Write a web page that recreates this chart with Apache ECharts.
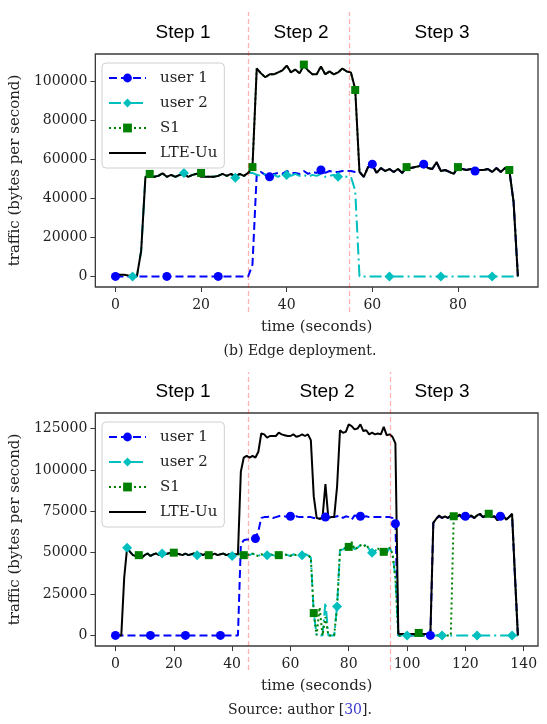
<!DOCTYPE html>
<html>
<head>
<meta charset="utf-8">
<script src="https://cdn.jsdelivr.net/npm/echarts@6/dist/echarts.min.js"></script>
<style>
html, body { margin: 0; padding: 0; background: #fff; }
#chart { width: 547px; height: 724px; }
</style>
</head>
<body>
<div id="chart"></div>
<script>
// (b) Edge deployment -- one sample per second, each series starts at its own second
const edgeUser1Start = 0;
const edgeUser1 = [
  0, 0, 0, 0, 0, 0, 0, 0, 0, 0, 0, 0, 0, 0, 0, 0, 0, 0, 0, 0, 0, 0, 0, 0, 0, 0, 0, 0, 0, 0, 0, 0,
  6000, 52500, 53500, 52000, 51000, 52500, 53000, 52500, 54000, 53000, 53000, 52500, 54000, 52500,
  53500, 53000, 54500, 53000, 54000, 53500, 53500, 54000, 54000, 54000, 53500,
  53500, 51000, 56000, 57500, 53000, 55500, 54000, 55000, 53500, 55000, 53000, 56000, 55500, 56000,
  56500, 57500, 55500, 55000, 58500, 54000, 54500, 53500, 52500, 56000, 55000, 54500, 55000, 54000,
  54500, 54500, 55000, 53500, 55500, 53500, 55500, 54500, 38000, 0
];
const edgeUser2Start = 4;
const edgeUser2 = [
  0, 0, 13000, 51000,
  51000, 51000, 51500, 52800, 51000, 52000, 51000, 52000, 53000, 51000, 52000, 52600, 51000, 51000,
  51000, 51000, 51500, 52500, 51500, 52500, 50500, 52500, 51500, 53000,
  53000, 52000, 51500, 52500, 51500, 52000, 51000, 52500, 52000, 51500, 52500, 51500, 52000, 51000,
  52000, 51500, 52500, 51000, 51500, 52000, 51000, 51500, 51000, 51000, 44000,
  0, 0, 0, 0, 0, 0, 0, 0, 0, 0, 0, 0, 0, 0, 0, 0, 0, 0, 0, 0, 0, 0, 0, 0, 0, 0, 0, 0, 0, 0, 0, 0,
  0, 0, 0, 0, 0, 0
];
const edgeS1Start = 8;
const edgeS1 = [
  52500, 51000, 51500, 52800, 51000, 52000, 51000, 52000, 52500, 51000, 52000, 52600, 53000, 51000,
  51000, 51000, 51500, 52500, 51500, 52500, 51000, 52500, 51500, 53000,
  56000, 106500, 104000, 102000, 103500, 103500, 104500, 105500, 108000, 104500, 106000, 104000,
  108500, 105500, 103500, 103500, 107500, 103500, 105000, 103500, 104500, 106500, 105000, 104500, 95500,
  53500, 51000, 56000, 57000, 53000, 55500, 54000, 55000, 53500, 55000, 53000, 56000, 55500, 56000,
  56500, 57500, 55500, 55000, 58500, 54000, 54500, 53500, 52500, 56000, 55000, 54500, 55000, 54000,
  54500, 54500, 55000, 53500, 55500, 53500, 55500, 54500, 38000, 0
];
const edgeLteStart = 0;
const edgeLte = [
  1000, 900, 800, 500, 300, 0, 13000,
  51000, 51000, 51000, 51500, 52800, 51000, 52000, 51000, 52000, 52500, 51000, 52000, 52600, 51000,
  51000, 51000, 51000, 51500, 52500, 51500, 52500, 51000, 52500, 51500, 53000,
  56000, 106500, 104000, 102000, 103500, 103500, 104500, 105500, 108000, 104500, 106000, 104000,
  108000, 105500, 103500, 103500, 107500, 103500, 105000, 103500, 104500, 106500, 105000, 104500, 96000,
  53500, 51000, 56000, 57000, 53000, 55500, 54000, 55000, 53500, 55000, 53000, 56000, 55500, 56000,
  56500, 57500, 55500, 55000, 58500, 54000, 54500, 53500, 52500, 56000, 55000, 54500, 55000, 54000,
  54500, 54500, 55000, 53500, 55500, 53500, 55500, 54500, 38000, 0
];
const edgeSteps = [31.3, 54.8];
const edgeXTicks = [0, 20, 40, 60, 80];
const edgeYTicks = [0, 20000, 40000, 60000, 80000, 100000];

// second experiment (source: author [30])
const cloudUser1Start = 0;
const cloudUser1 = [
  0, 0, 0, 0, 0, 0, 0, 0, 0, 0, 0, 0, 0, 0, 0, 0, 0, 0, 0, 0, 0, 0, 0, 0, 0, 0, 0, 0, 0, 0,
  0, 0, 0, 0, 0, 0, 0, 0, 0, 0, 0, 0, 0,
  55000, 57500, 58000, 58000, 58500, 58500, 63000, 71000, 71500, 71500, 72000, 71000, 71500, 72000,
  72500, 72000, 71500, 72000, 71500, 72000, 71500, 71500, 72000, 71500, 71500, 71000, 71000, 70500,
  71000, 71500, 71000, 71500, 71500, 72000, 72500, 71000, 72000, 71500, 70000, 72500, 72000, 72000,
  71500, 72000, 71500, 71500, 71500, 71500, 71500, 71500, 71500, 71500, 71000, 67500,
  0, 0, 0, 0, 0, 0, 0, 0, 0, 0, 0, 0,
  68000, 70500, 72000, 71000, 72000, 71000, 72000, 72000, 71500, 72500, 71000, 72000, 71500, 72000,
  71000, 72000, 73000, 71500, 72000, 73000, 71500, 72000, 69500, 72000, 72000, 70000, 71500, 73000,
  36000, 0
];
const cloudUser2Start = 4;
const cloudUser2 = [
  53000, 50500, 48500, 48000, 48000, 47000, 48500, 49500, 48000, 49000, 49500, 48500, 49500, 49000,
  49500, 50000, 48500, 49500, 49000, 48500, 49500, 48500, 49000, 49500, 48500, 49500, 48500, 49500,
  49000, 48500, 49500, 48500, 49000, 49500, 48500, 49000, 48000, 49000, 49000,
  49000, 48500, 49000, 48500, 49500, 48500, 48000, 49000, 48500, 48500, 49000, 48500, 48000, 49000,
  48500, 49000, 48500, 48000, 49000, 48500, 49000, 48500, 49000, 48500,
  47000, 13500, 0, 0, 0, 20000, 0, 0, 0, 17500,
  51500, 52000, 53000, 53500, 55500, 52000, 53000, 54500, 53500, 55000, 52000, 50000, 51000, 52500,
  51000, 50500, 50000, 53000, 49500, 35000,
  0, 0, 0, 0, 0, 0, 0, 0, 0, 0, 0, 0, 0, 0, 0, 0, 0, 0, 0, 0, 0, 0, 0, 0, 0, 0, 0, 0, 0, 0,
  0, 0, 0, 0, 0, 0, 0, 0, 0, 0, 0, 0
];
const cloudS1Start = 8;
const cloudS1 = [
  48500, 47000, 48500, 49500, 48000, 49000, 49500, 48500, 49500, 49000, 49500, 50000, 50000, 49500,
  49000, 48500, 49500, 48500, 49000, 49500, 48500, 49500, 48500, 49500, 48500, 48500, 49500, 48500,
  49000, 49500, 48500, 49000, 48000, 49000, 49000,
  49000, 48500, 49000, 48500, 49500, 48500, 48000, 49000, 48500, 48500, 49000, 48500, 48000, 48500,
  48500, 49000, 48500, 48000, 49000, 48500, 49000, 48500, 49000, 48500,
  47000, 13500, 0, 17000, 0, 11000, 0, 0, 0, 17500,
  51500, 52000, 53000, 53500, 56500, 52000, 53000, 54500, 53500, 55000, 52000, 50000, 51000, 52500,
  51000, 50500, 50000, 53000, 49500, 35000,
  0, 0, 0, 0, 0, 0, 0, 1500, 0, 0, 0, 0, 0, 0, 0, 0, 0, 0, 0,
  72000, 71500, 73000, 71000, 72000, 71500, 72500, 71000, 72500, 73500, 71500, 72500, 73500, 71500,
  72000, 69500, 71500, 72500, 70000, 71500, 73500, 36000, 0
];
const cloudLteStart = 0;
const cloudLte = [
  0, 0, 0, 35000, 53000, 50500, 48500, 48000, 48000, 47000, 48500, 49500, 48000, 49000, 49500, 48500,
  49500, 49000, 49500, 50000, 48500, 49500, 49000, 48500, 49500, 48500, 49000, 49500, 48500, 49500,
  48500, 49500, 49000, 48500, 49500, 48500, 49000, 49500, 48500, 49000, 49000, 49000, 49000,
  99000, 107500, 108500, 107500, 108500, 107500, 111000, 122000, 121500, 119500, 120500, 120500,
  120500, 122500, 121500, 121000, 120500, 120500, 121500, 120000, 120500, 121500, 120500, 121500,
  118000, 84000, 71000, 70500, 71000, 91500, 71000, 71500, 71500, 90000,
  124000, 122500, 123000, 127500, 126500, 124500, 125000, 127500, 123500, 124000, 121500, 122500,
  121500, 122000, 121500, 126000, 121000, 121500, 120000, 116000,
  1000, 800, 800, 800, 800, 800, 800, 2000, 800, 800, 800, 800,
  68000, 70500, 72500, 71000, 72000, 71000, 72500, 72000, 71500, 73000, 71000, 72000, 71500, 72500,
  71000, 72500, 73500, 71500, 72500, 74000, 71500, 72000, 69500, 71500, 72500, 70000, 71500, 73500,
  36000, 0
];
const cloudSteps = [45.9, 94.4];
const cloudXTicks = [0, 20, 40, 60, 80, 100, 120, 140];
const cloudYTicks = [0, 25000, 50000, 75000, 100000, 125000];

const seriesNames = ['user 1', 'user 2', 'S1', 'LTE-Uu'];
const stepLabels = ['Step 1', 'Step 2', 'Step 3'];

const SERIF = '"DejaVu Serif", serif';
const SANS = '"Liberation Sans", Arial, sans-serif';
const TEXT = '#222';
const FRAME = '#3a3a3a';

const looks = {
  'user 1': { color: '#0000ff', symbol: 'circle', size: 9, dash: [8, 4] },
  'user 2': { color: '#00bfbf', symbol: 'diamond', size: 10, dash: [12, 4, 2, 4] },
  'S1': { color: '#008000', symbol: 'rect', size: 8, dash: [2, 3] },
  'LTE-Uu': { color: '#000000', symbol: 'circle', size: 0, dash: 'solid' }
};

function pairs(start, values) {
  return values.map((v, i) => [start + i, v]);
}

// markers on every 12th sample, like matplotlib markevery=12
function lineSeries(name, idx, start, values) {
  const look = looks[name];
  return {
    name: name,
    type: 'line',
    xAxisIndex: idx,
    yAxisIndex: idx,
    data: pairs(start, values),
    symbol: look.symbol,
    symbolSize: (val, params) => (params.dataIndex % 12 === 0 ? look.size : 0),
    showSymbol: true,
    showAllSymbol: true,
    lineStyle: { color: look.color, width: 2, type: look.dash },
    itemStyle: { color: look.color },
    emphasis: { disabled: true },
    silent: true
  };
}

function stepLines(idx, steps) {
  return {
    type: 'line',
    xAxisIndex: idx,
    yAxisIndex: idx,
    data: [],
    silent: true,
    z: 1,
    markLine: {
      silent: true,
      symbol: 'none',
      label: { show: false },
      lineStyle: { color: 'rgba(255,0,0,0.3)', width: 1.3, type: [5, 3] },
      data: steps.map(s => ({ xAxis: s }))
    }
  };
}

function xAxis(idx, min, max, ticks, hidden) {
  if (hidden) {
    return { gridIndex: idx, type: 'value', min: min, max: max, show: false };
  }
  return {
    gridIndex: idx, type: 'value', min: min, max: max,
    name: 'time (seconds)', nameLocation: 'middle', nameGap: 33,
    nameTextStyle: { fontFamily: SERIF, fontSize: 15, color: TEXT },
    axisLine: { show: false, onZero: false },
    axisTick: { show: true, length: 5, customValues: ticks, lineStyle: { color: FRAME } },
    axisLabel: { customValues: ticks, formatter: v => String(v), fontFamily: SERIF, fontSize: 14, color: TEXT, margin: 11 },
    splitLine: { show: false }
  };
}

function yAxis(idx, min, max, ticks, hidden) {
  if (hidden) {
    return { gridIndex: idx, type: 'value', min: 0, max: 1, show: false };
  }
  return {
    gridIndex: idx, type: 'value', min: min, max: max,
    name: 'traffic (bytes per second)', nameLocation: 'middle', nameGap: 69,
    nameTextStyle: { fontFamily: SERIF, fontSize: 15, color: TEXT },
    axisLine: { show: false, onZero: false },
    axisTick: { show: true, length: 5, customValues: ticks, lineStyle: { color: FRAME } },
    axisLabel: { customValues: ticks, formatter: v => String(v), fontFamily: SERIF, fontSize: 14, color: TEXT, margin: 8 },
    splitLine: { show: false }
  };
}

function legend(top) {
  return {
    orient: 'vertical',
    left: 102,
    top: top,
    padding: [6, 7, 6, 6],
    itemWidth: 37,
    itemHeight: 11,
    itemGap: 7,
    backgroundColor: 'rgba(255,255,255,0.85)',
    borderColor: '#d0d0d0',
    borderWidth: 1,
    borderRadius: 4,
    selectedMode: false,
    textStyle: { fontFamily: SERIF, fontSize: 15, color: TEXT, lineHeight: 18, padding: [0, 0, 0, 9] },
    data: seriesNames.map(n => n === 'LTE-Uu' ? { name: n, itemStyle: { opacity: 0 } } : n)
  };
}

function stepText(x, y, text) {
  return {
    type: 'text', x: x, y: y, silent: true,
    style: { text: text, font: '19px ' + SANS, fill: '#000', align: 'center', verticalAlign: 'middle' }
  };
}

const chart = echarts.init(document.getElementById('chart'), null, { renderer: 'canvas' });

const option = {
  animation: false,
  backgroundColor: '#fff',
  grid: [
    { left: 93, right: 9, top: 54, height: 233, show: true, borderColor: FRAME, borderWidth: 1.3, backgroundColor: 'transparent' },
    { left: 93, right: 9, top: 413, height: 233, show: true, borderColor: FRAME, borderWidth: 1.3, backgroundColor: 'transparent' },
    { left: 93, right: 9, top: 12, height: 300 },
    { left: 93, right: 9, top: 372, height: 298 }
  ],
  xAxis: [
    xAxis(0, -4.7, 98.7, edgeXTicks, false),
    xAxis(1, -6.9, 144.9, cloudXTicks, false),
    xAxis(2, -4.7, 98.7, null, true),
    xAxis(3, -6.9, 144.9, null, true)
  ],
  yAxis: [
    yAxis(0, -5425, 113925, edgeYTicks, false),
    yAxis(1, -6400, 134400, cloudYTicks, false),
    yAxis(2, 0, 1, null, true),
    yAxis(3, 0, 1, null, true)
  ],
  legend: [legend(63), legend(422)],
  series: [
    stepLines(2, edgeSteps),
    stepLines(3, cloudSteps),
    lineSeries('user 1', 0, edgeUser1Start, edgeUser1),
    lineSeries('user 2', 0, edgeUser2Start, edgeUser2),
    lineSeries('S1', 0, edgeS1Start, edgeS1),
    lineSeries('LTE-Uu', 0, edgeLteStart, edgeLte),
    lineSeries('user 1', 1, cloudUser1Start, cloudUser1),
    lineSeries('user 2', 1, cloudUser2Start, cloudUser2),
    lineSeries('S1', 1, cloudS1Start, cloudS1),
    lineSeries('LTE-Uu', 1, cloudLteStart, cloudLte)
  ],
  graphic: [
    stepText(183, 33, stepLabels[0]),
    stepText(301, 33, stepLabels[1]),
    stepText(442, 33, stepLabels[2]),
    stepText(183, 392, stepLabels[0]),
    stepText(327, 392, stepLabels[1]),
    stepText(442, 392, stepLabels[2]),
    {
      type: 'text', x: 300, y: 351, silent: true,
      style: { text: '(b) Edge deployment.', font: '14px ' + SERIF, fill: TEXT, align: 'center', verticalAlign: 'middle' }
    },
    {
      type: 'text', x: 300, y: 710, silent: true,
      style: {
        text: 'Source: author [{ref|30}].', font: '14px ' + SERIF, fill: TEXT, align: 'center', verticalAlign: 'middle',
        rich: { ref: { font: '14px ' + SERIF, fill: '#3a3acc' } }
      }
    }
  ]
};

chart.setOption(option);
</script>
</body>
</html>
